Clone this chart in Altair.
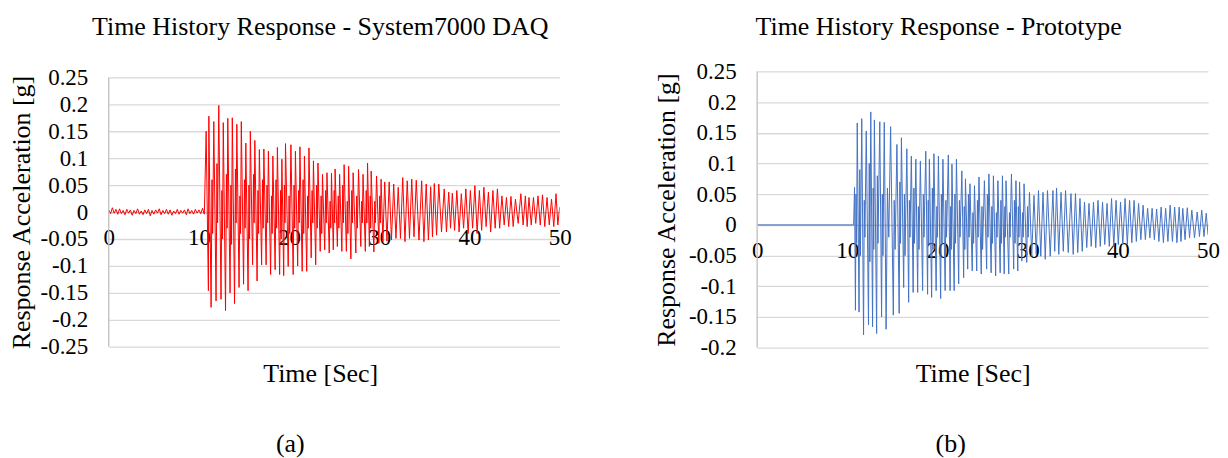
import altair as alt
import pandas as pd

FONT = "Liberation Serif"

# ---------------- Panel (a): System7000 DAQ (red) ----------------
red_noise_t = [0.0, 0.2, 0.4, 0.6, 0.8, 1.0, 1.2, 1.4, 1.6, 1.8, 2.0, 2.2, 2.4, 2.6, 2.8,
               3.0, 3.2, 3.4, 3.6, 3.8, 4.0, 4.2, 4.4, 4.6, 4.8, 5.0, 5.2, 5.4, 5.6, 5.8,
               6.0, 6.2, 6.4, 6.6, 6.8, 7.0, 7.2, 7.4, 7.6, 7.8, 8.0, 8.2, 8.4, 8.6, 8.8,
               9.0, 9.2, 9.4, 9.6, 9.8, 10.0, 10.2, 10.4, 10.6]
red_noise_v = [0.004, -0.003, 0.008, -0.002, 0.005, -0.004, 0.006, -0.003, 0.003, -0.005,
               0.005, -0.002, 0.004, -0.006, 0.003, -0.003, 0.006, -0.004, 0.002, -0.005,
               0.004, -0.003, 0.005, -0.007, 0.003, -0.004, 0.004, -0.002, 0.006, -0.005,
               0.003, -0.003, 0.005, -0.004, 0.004, -0.006, 0.002, -0.003, 0.005, -0.004,
               0.003, -0.002, 0.004, -0.005, 0.006, -0.003, 0.003, -0.004, 0.005, -0.002,
               0.004, -0.003, 0.007, -0.004]

red_max_t = [10.8, 11.1, 11.65, 12.2, 12.7, 13.2, 13.7, 14.2, 14.7, 15.2, 15.7, 16.2, 16.7,
             17.2, 17.7, 18.2, 18.7, 19.2, 19.6, 20.2, 20.7, 21.2, 21.7, 22.2, 22.7, 23.2,
             23.7, 24.2, 24.7, 25.1, 25.6, 26.1, 26.6, 27.1, 27.7, 28.2, 28.7, 29.1, 29.7,
             30.2, 30.6, 31.1, 31.6, 32.1, 32.6, 33.1, 33.6, 34.1, 34.7, 35.2, 35.7, 36.1,
             36.6, 37.2, 37.7, 38.1, 38.6, 39.1, 39.6, 40.1, 40.6, 41.1, 41.6, 42.1, 42.6,
             43.1, 43.6, 44.1, 44.6, 45.1, 45.7, 46.2, 46.6, 47.1, 47.6, 48.1, 48.6, 49.1,
             49.6, 50.0]
red_max_v = [0.15, 0.178, 0.168, 0.198, 0.166, 0.174, 0.175, 0.163, 0.168, 0.128, 0.15,
             0.133, 0.116, 0.117, 0.113, 0.104, 0.12, 0.098, 0.127, 0.125, 0.113, 0.121,
             0.104, 0.119, 0.095, 0.091, 0.07, 0.073, 0.072, 0.08, 0.07, 0.088, 0.085,
             0.073, 0.079, 0.07, 0.091, 0.076, 0.067, 0.061, 0.056, 0.056, 0.052, 0.046,
             0.064, 0.058, 0.061, 0.059, 0.058, 0.052, 0.047, 0.053, 0.052, 0.043, 0.037,
             0.035, 0.04, 0.034, 0.043, 0.04, 0.049, 0.04, 0.046, 0.037, 0.04, 0.043, 0.03,
             0.027, 0.029, 0.024, 0.034, 0.03, 0.027, 0.027, 0.03, 0.032, 0.027, 0.024,
             0.034, 0.009]
red_min_t = [11.05, 11.35, 11.9, 12.45, 12.95, 13.45, 13.95, 14.45, 14.95, 15.45, 15.95,
             16.45, 16.95, 17.45, 17.95, 18.45, 18.95, 19.4, 19.9, 20.45, 20.95, 21.45,
             21.95, 22.45, 22.95, 23.45, 23.95, 24.45, 24.9, 25.35, 25.85, 26.35, 26.85,
             27.4, 27.95, 28.45, 28.9, 29.4, 29.95, 30.4, 30.85, 31.35, 31.85, 32.35, 32.85,
             33.35, 33.85, 34.4, 34.95, 35.45, 35.9, 36.35, 36.9, 37.45, 37.9, 38.35, 38.85,
             39.35, 39.85, 40.35, 40.85, 41.35, 41.85, 42.35, 42.85, 43.35, 43.85, 44.35,
             44.85, 45.4, 45.95, 46.4, 46.85, 47.35, 47.85, 48.35, 48.85, 49.35, 49.8]
red_min_v = [-0.146, -0.177, -0.165, -0.162, -0.183, -0.15, -0.17, -0.14, -0.134, -0.146,
             -0.098, -0.128, -0.098, -0.098, -0.116, -0.107, -0.116, -0.118, -0.101, -0.116,
             -0.1, -0.11, -0.11, -0.085, -0.098, -0.073, -0.07, -0.076, -0.07, -0.064,
             -0.073, -0.073, -0.087, -0.076, -0.064, -0.073, -0.064, -0.074, -0.058, -0.055,
             -0.054, -0.052, -0.049, -0.049, -0.055, -0.049, -0.046, -0.052, -0.055, -0.052,
             -0.046, -0.043, -0.037, -0.037, -0.03, -0.034, -0.037, -0.03, -0.04, -0.03,
             -0.04, -0.034, -0.027, -0.037, -0.03, -0.03, -0.024, -0.027, -0.027, -0.021,
             -0.024, -0.027, -0.024, -0.021, -0.024, -0.027, -0.024, -0.027, -0.024]
# smaller secondary wiggles between the large swings (11-30 s)
red_sub_t = [11.45, 12.0, 12.55, 13.05, 13.55, 14.05, 14.55, 15.05, 15.55, 16.05, 16.55,
             17.05, 17.55, 18.05, 18.55, 19.05, 19.48, 20.0, 20.55, 21.05, 21.55, 22.05,
             22.55, 23.05, 23.55, 24.05, 24.55, 25.0, 25.45, 25.95, 26.45, 26.95, 27.5,
             28.05, 28.55, 29.0, 29.5, 30.05]
red_sub_v = [0.06, 0.09, 0.04, 0.07, 0.05, 0.08, 0.03, 0.06, 0.05, 0.07, 0.04, 0.06, 0.05,
             0.03, 0.06, 0.04, 0.05, 0.03, 0.05, 0.04, 0.06, 0.03, 0.04, 0.05, 0.03, 0.04,
             0.02, 0.04, 0.03, 0.05, 0.02, 0.04, 0.03, 0.02, 0.04, 0.03, 0.02, 0.03]
red_dip_t = [11.52, 12.07, 12.62, 13.12, 13.62, 14.12, 14.62, 15.12, 15.62, 16.12, 16.62,
             17.12, 17.62, 18.12, 18.62, 19.12, 19.54, 20.07, 20.62, 21.12, 21.62, 22.12,
             22.62, 23.12, 23.62, 24.12, 24.62, 25.05, 25.52, 26.02, 26.52, 27.02, 27.57,
             28.12, 28.62, 29.05, 29.57, 30.12]
red_dip_v = [-0.04, -0.02, -0.05, -0.03, -0.06, -0.02, -0.04, -0.03, -0.05, -0.02, -0.04,
             -0.03, -0.02, -0.04, -0.03, -0.05, -0.02, -0.04, -0.03, -0.02, -0.04, -0.03,
             -0.02, -0.03, -0.04, -0.02, -0.03, -0.02, -0.03, -0.02, -0.04, -0.02, -0.03,
             -0.02, -0.02, -0.03, -0.02, -0.02]

# ---------------- Panel (b): Prototype (blue) ----------------
blue_flat_t = [0.0, 10.7]
blue_flat_v = [0.0, 0.0]
blue_max_t = [10.8, 11.1, 11.6, 12.1, 12.6, 13.0, 13.6, 14.1, 14.8, 15.5, 16.0, 16.6, 17.1,
              17.6, 18.1, 18.7, 19.1, 19.6, 20.1, 20.6, 21.2, 21.6, 22.1, 22.7, 23.1, 23.6,
              24.1, 24.6, 25.2, 25.7, 26.2, 26.7, 27.2, 27.6, 28.2, 28.7, 29.1, 29.6, 30.2,
              30.7, 31.2, 31.7, 32.2, 32.8, 33.2, 33.7, 34.2, 34.8, 35.3, 35.8, 36.3, 36.8,
              37.3, 37.8, 38.3, 38.8, 39.3, 39.8, 40.3, 40.8, 41.3, 41.8, 42.3, 42.8, 43.3,
              43.8, 44.3, 44.8, 45.3, 45.8, 46.3, 46.8, 47.2, 47.7, 48.2, 48.8, 49.3, 49.8]
blue_max_v = [0.061, 0.166, 0.173, 0.153, 0.184, 0.171, 0.168, 0.167, 0.16, 0.131, 0.142,
              0.124, 0.112, 0.107, 0.104, 0.12, 0.107, 0.116, 0.112, 0.107, 0.114, 0.099,
              0.107, 0.088, 0.075, 0.067, 0.064, 0.078, 0.072, 0.083, 0.08, 0.072, 0.08,
              0.072, 0.083, 0.072, 0.07, 0.067, 0.053, 0.048, 0.056, 0.053, 0.056, 0.056,
              0.06, 0.053, 0.056, 0.051, 0.051, 0.043, 0.037, 0.035, 0.037, 0.04, 0.037,
              0.035, 0.043, 0.04, 0.037, 0.043, 0.04, 0.04, 0.035, 0.032, 0.027, 0.027,
              0.026, 0.029, 0.027, 0.032, 0.029, 0.029, 0.027, 0.028, 0.024, 0.021, 0.024,
              0.019]
blue_min_t = [10.9, 11.3, 11.8, 12.35, 12.8, 13.25, 13.8, 14.3, 15.1, 15.75, 16.25, 16.8,
              17.3, 17.8, 18.35, 18.9, 19.35, 19.85, 20.35, 20.85, 21.4, 21.85, 22.35, 22.9,
              23.35, 23.85, 24.35, 24.85, 25.45, 25.95, 26.45, 26.95, 27.4, 27.9, 28.45,
              28.9, 29.35, 29.9, 30.45, 30.95, 31.45, 31.95, 32.5, 33.0, 33.45, 33.95, 34.5,
              35.05, 35.55, 36.05, 36.55, 37.05, 37.55, 38.05, 38.55, 39.05, 39.55, 40.05,
              40.55, 41.05, 41.55, 42.05, 42.55, 43.05, 43.55, 44.05, 44.55, 45.05, 45.55,
              46.05, 46.55, 47.0, 47.45, 47.95, 48.5, 49.05, 49.55, 50.0]
blue_min_v = [-0.139, -0.142, -0.179, -0.163, -0.166, -0.177, -0.15, -0.17, -0.147, -0.144,
              -0.102, -0.126, -0.11, -0.11, -0.107, -0.113, -0.118, -0.107, -0.12, -0.107,
              -0.107, -0.107, -0.096, -0.086, -0.072, -0.075, -0.075, -0.08, -0.072, -0.078,
              -0.083, -0.078, -0.08, -0.08, -0.072, -0.075, -0.059, -0.061, -0.051, -0.048,
              -0.051, -0.056, -0.051, -0.043, -0.048, -0.043, -0.045, -0.048, -0.045, -0.043,
              -0.037, -0.035, -0.037, -0.035, -0.032, -0.035, -0.035, -0.032, -0.032, -0.032,
              -0.029, -0.027, -0.024, -0.024, -0.021, -0.024, -0.027, -0.029, -0.027, -0.027,
              -0.029, -0.027, -0.024, -0.021, -0.021, -0.019, -0.019, -0.016]
blue_sub_t = [10.96, 11.38, 11.88, 12.43, 12.87, 13.33, 13.88, 14.45, 15.2, 15.83, 16.33,
              16.88, 17.38, 17.88, 18.43, 18.97, 19.43, 19.93, 20.43, 20.93, 21.47, 21.93,
              22.43, 22.97, 23.43, 23.93, 24.43, 24.93, 25.53, 26.03, 26.53, 27.03, 27.47,
              27.98, 28.53, 28.97, 29.43, 29.98]
blue_sub_v = [0.05, 0.09, 0.04, 0.1, 0.06, 0.08, 0.05, 0.06, 0.04, 0.07, 0.05, 0.04, 0.06,
              0.03, 0.05, 0.04, 0.06, 0.03, 0.05, 0.04, 0.03, 0.05, 0.04, 0.03, 0.05, 0.02,
              0.04, 0.03, 0.05, 0.03, 0.02, 0.04, 0.03, 0.02, 0.04, 0.03, 0.02, 0.03]
blue_dip_t = [11.03, 11.45, 11.95, 12.5, 12.93, 13.4, 13.95, 14.6, 15.3, 15.9, 16.4, 16.95,
              17.45, 17.95, 18.5, 19.03, 19.5, 20.0, 20.5, 21.0, 21.53, 22.0, 22.5, 23.03,
              23.5, 24.0, 24.5, 25.0, 25.6, 26.1, 26.6, 27.1, 27.53, 28.05, 28.6, 29.03,
              29.5, 30.05]
blue_dip_v = [-0.03, -0.05, -0.02, -0.06, -0.04, -0.03, -0.05, -0.02, -0.04, -0.03, -0.05,
              -0.02, -0.03, -0.04, -0.02, -0.03, -0.04, -0.02, -0.03, -0.02, -0.04, -0.03,
              -0.02, -0.04, -0.02, -0.03, -0.02, -0.04, -0.02, -0.03, -0.02, -0.03, -0.02,
              -0.02, -0.03, -0.02, -0.02, -0.02]

x_ticks = [0, 10, 20, 30, 40, 50]
red_y_ticks = [0.25, 0.2, 0.15, 0.1, 0.05, 0, -0.05, -0.1, -0.15, -0.2, -0.25]
blue_y_ticks = [0.25, 0.2, 0.15, 0.1, 0.05, 0, -0.05, -0.1, -0.15, -0.2]


def build_df(ts, vs):
    t_all, v_all = [], []
    for t, v in zip(ts, vs):
        t_all += list(t)
        v_all += list(v)
    return pd.DataFrame({"t": t_all, "v": v_all}).sort_values("t")


red_df = build_df([red_noise_t, red_max_t, red_min_t, red_sub_t, red_dip_t],
                  [red_noise_v, red_max_v, red_min_v, red_sub_v, red_dip_v])
blue_df = build_df([blue_flat_t, blue_max_t, blue_min_t, blue_sub_t, blue_dip_t],
                   [blue_flat_v, blue_max_v, blue_min_v, blue_sub_v, blue_dip_v])

LABEL_EXPR = "datum.value == 0 ? '0' : toString(round(datum.value * 100) / 100)"
AX = dict(labelFont=FONT, titleFont=FONT, labelFontSize=23, titleFontSize=26,
          labelColor="black", titleColor="black", titleFontWeight="normal")


def panel(df, color, title, title_dx, title_offset, ydom, yticks, w, h,
          x_title_x, x_title_y, y_title_x, caption, cap_x, cap_y):
    zero_from_bottom = h * (0 - ydom[0]) / (ydom[1] - ydom[0])
    top_px = h - (yticks[0] - ydom[0]) / (ydom[1] - ydom[0]) * h
    line = alt.Chart(df).mark_line(color=color, strokeWidth=1, clip=True).encode(
        x=alt.X("t:Q",
                scale=alt.Scale(domain=[0, 50], nice=False, zero=False),
                axis=alt.Axis(values=x_ticks, title="Time [Sec]", grid=False, ticks=False,
                              domain=True, domainColor="#bfbfbf", domainWidth=1.3,
                              offset=-zero_from_bottom, labelPadding=15,
                              titleX=x_title_x, titleY=x_title_y, titleBaseline="middle",
                              titleAlign="center", labelFlush=False, **AX)),
        y=alt.Y("v:Q",
                scale=alt.Scale(domain=ydom, nice=False, zero=False),
                axis=alt.Axis(values=yticks, labelExpr=LABEL_EXPR, title="Response Acceleration [g]",
                              grid=True, gridColor="#d9d9d9", gridWidth=1.3, ticks=False,
                              domain=False, labelPadding=21, labelOverlap=False,
                              titleX=y_title_x, titleY=(top_px + h) / 2,
                              titleBaseline="middle", titleAlign="center", **AX)),
    )
    # left border line of the plot area (the vertical axis line)
    frame = alt.Chart(pd.DataFrame({"k": [0]})).mark_rule(
        color="#bfbfbf", strokeWidth=1.3
    ).encode(x=alt.value(0), y=alt.value(top_px), y2=alt.value(h))
    cap = alt.Chart(pd.DataFrame({"c": [caption]})).mark_text(
        font=FONT, fontSize=26, color="black", align="center", baseline="middle"
    ).encode(text="c:N", x=alt.value(cap_x), y=alt.value(cap_y))
    return alt.layer(line, frame, cap).properties(
        width=w, height=h,
        title=alt.TitleParams(title, dx=title_dx, offset=title_offset, anchor="middle",
                              font=FONT, fontSize=26, fontWeight="normal", color="black"),
    )


left = panel(red_df, "#FF0000", "Time History Response - System7000 DAQ", -14, 26,
             [-0.25, 0.2611], red_y_ticks, 452, 276,
             212, 162, -87, "(a)", 182, 374)
right = panel(blue_df, "#4472C4", "Time History Response - Prototype", -44, 20,
              [-0.2, 0.25], blue_y_ticks, 452, 277,
              216, 149, -91, "(b)", 194, 374)

chart = alt.hconcat(left, right, spacing=81).properties(
    padding={"top": 5, "left": 0, "right": 0, "bottom": 0}
).configure(font=FONT).configure_view(stroke=None)

chart.save("out.html", embed_options={"renderer": "svg", "actions": False})
